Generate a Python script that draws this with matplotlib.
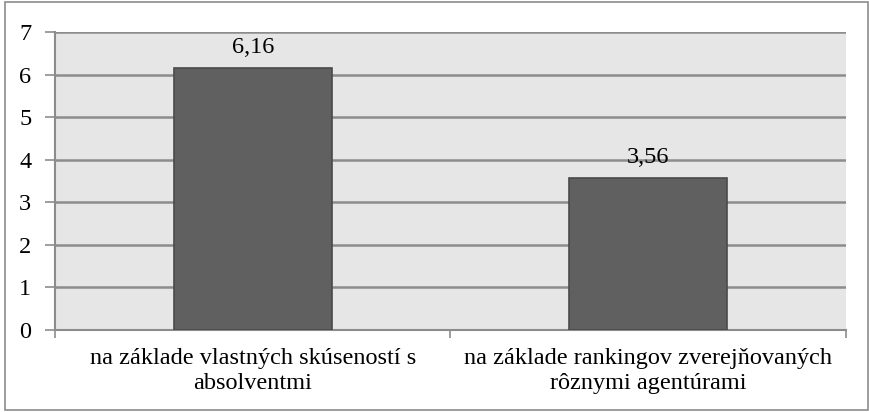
import matplotlib
matplotlib.use("Agg")
import matplotlib.pyplot as plt
from matplotlib.patches import Rectangle

categories = ["na základe vlastných skúseností s\nabsolventmi",
              "na základe rankingov zverejňovaných\nrôznymi agentúrami"]
values = [6.16, 3.56]
value_labels = ["6,16", "3,56"]
yticks = [0, 1, 2, 3, 4, 5, 6, 7]

plt.rcParams['font.family'] = ['Liberation Serif', 'DejaVu Serif']
FS = 17.5

fig = plt.figure(figsize=(8.70, 4.12), dpi=100)
fig.patches.append(Rectangle((5/870, 2/412), 863/870, 408/412, transform=fig.transFigure,
                             fill=False, edgecolor='#8c8c8c', linewidth=1.2))
ax = fig.add_axes([55/870, 1 - 330/412, (846-55)/870, (330-32)/412])
ax.set_facecolor('#e6e6e6')
x = range(len(values))
ax.bar(x, values, width=0.4, color='#606060', edgecolor='#4a4a4a', linewidth=1.2, zorder=3)
for xi, v, lab in zip(x, values, value_labels):
    ax.text(xi, v + 0.24, lab, ha='center', va='bottom', fontsize=FS)
ax.set_xlim(-0.5, 1.5)
ax.set_ylim(0, 7)
ax.set_yticks(yticks)
ax.set_yticklabels([str(t) for t in yticks], fontsize=FS)
ax.yaxis.grid(True, color='#8c8c8c', linewidth=1.8, zorder=1)
ax.set_axisbelow(True)
ax.set_xticks([-0.5, 0.5, 1.5])
ax.set_xticklabels([])
ax.set_xticks([0, 1], minor=True)
ax.set_xticklabels(categories, minor=True, fontsize=FS, multialignment='center',
                   linespacing=1.25)
ax.tick_params(axis='x', which='minor', length=0, pad=13)
ax.tick_params(axis='x', which='major', length=6, color='#8c8c8c', width=1.2)
ax.tick_params(axis='y', length=7, color='#8c8c8c', width=1.2, pad=10)
for s in ['top', 'right']:
    ax.spines[s].set_visible(False)
for s in ['left', 'bottom']:
    ax.spines[s].set_color('#8c8c8c')
    ax.spines[s].set_linewidth(1.5)
fig.savefig('out.png', dpi=100)
